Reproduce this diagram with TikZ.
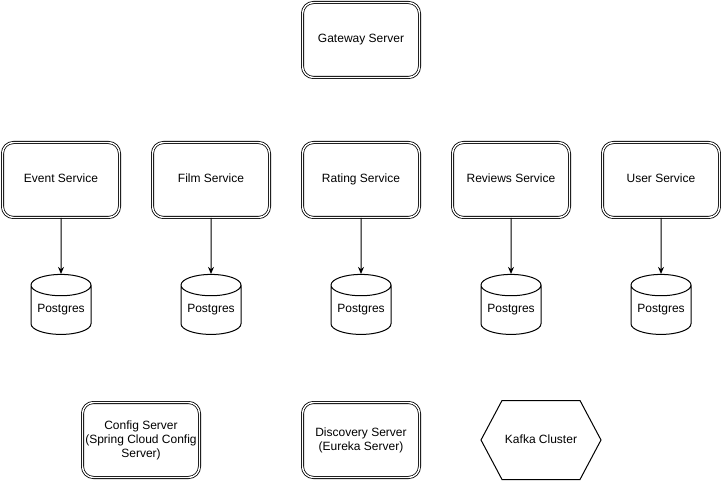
\documentclass[tikz,border=0pt]{standalone}
\usepackage{fontspec}
\setmainfont{Liberation Sans}
\usetikzlibrary{arrows.meta,shapes.geometric,positioning}

\begin{document}
\begin{tikzpicture}[x=1pt,y=-1pt,node distance=150pt,on grid,
        font=\fontsize{12}{14}\selectfont, >={Stealth[length=7pt,width=6pt]}]
        \tikzstyle{server}=[draw, double, line width=0.8pt, double distance=1.4pt,
            rounded corners=11pt, minimum width=117pt, minimum height=75pt,
            align=center, inner sep=0pt]
        \tikzstyle{oneline}=[text height=10pt, text depth=4pt]
        \tikzstyle{db}=[draw, line width=1pt, cylinder, shape border rotate=90,
            aspect=0.45, minimum width=60pt, minimum height=60pt, inner sep=0pt]

        \useasboundingbox (0,0) rectangle (721,481);

        \node[server, oneline] (gateway) at (361,40)        {Gateway Server};

        \node[server, oneline] (rating)  at (361,180)       {Rating Service};
        \node[server, oneline] (film)    [left=of rating]   {Film Service};
        \node[server, oneline] (event)   [left=of film]     {Event Service};
        \node[server, oneline] (reviews) [right=of rating]  {Reviews Service};
        \node[server, oneline] (user)    [right=of reviews] {User Service};

        \node[db, oneline]     (pgevent)   [below=130pt of event]   {Postgres};
        \node[db, oneline]     (pgfilm)    [below=130pt of film]    {Postgres};
        \node[db, oneline]     (pgrating)  [below=130pt of rating]  {Postgres};
        \node[db, oneline]     (pgreviews) [below=130pt of reviews] {Postgres};
        \node[db, oneline]     (pguser)    [below=130pt of user]    {Postgres};

        \node[server]   (discovery) [below=260pt of rating]  {Discovery Server\\(Eureka Server)};
        \node[server]   (config)    [left=220pt of discovery] {Config Server\\(Spring Cloud Config\\Server)};
        \node[oneline, minimum width=120pt, minimum height=79pt, inner sep=0pt, outer sep=0pt]
                        (kafka)     [right=180pt of discovery] {Kafka Cluster};

        % hexagon round the kafka node
        \draw[line width=1pt]
            ([xshift=21pt]kafka.north west) -- ([xshift=-21pt]kafka.north east)
            -- (kafka.east) -- ([xshift=-21pt]kafka.south east)
            -- ([xshift=21pt]kafka.south west) -- (kafka.west) -- cycle;

        \path[->, draw, line width=1pt]
            (event)   edge (pgevent)
            (film)    edge (pgfilm)
            (rating)  edge (pgrating)
            (reviews) edge (pgreviews)
            (user)    edge (pguser)
        ;
    \end{tikzpicture}
\end{document}
